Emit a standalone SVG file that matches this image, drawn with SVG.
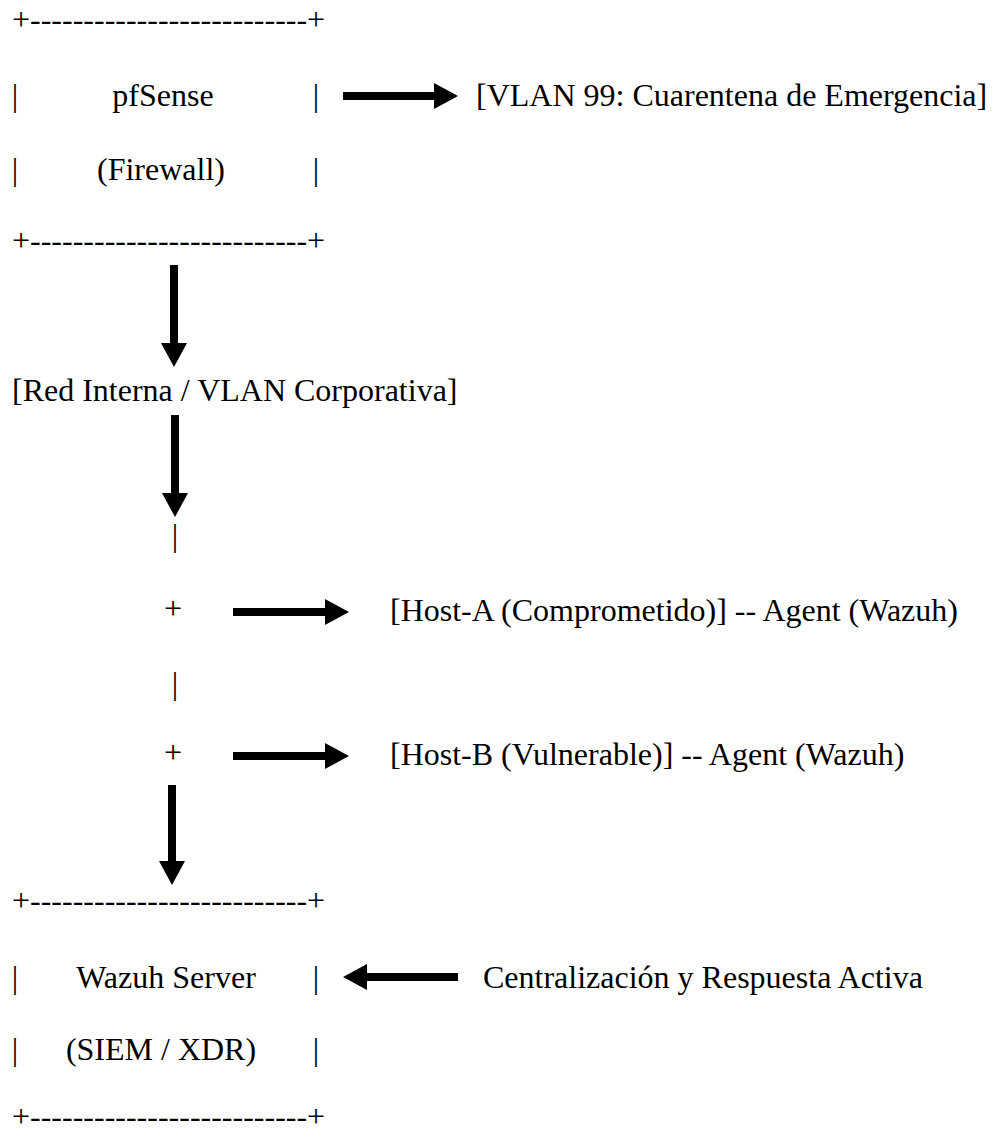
<svg xmlns="http://www.w3.org/2000/svg" width="996" height="1132" viewBox="0 0 996 1132">
<style>
text{font-family:"Liberation Serif","Times New Roman",serif;font-size:32px;fill:#000}
.m{text-anchor:middle}
.c{stroke:#000;stroke-width:8;fill:none;marker-end:url(#ah)}
</style>
<defs>
<marker id="ah" viewBox="0 0 24 26" refX="1" refY="13" markerWidth="24" markerHeight="26" markerUnits="userSpaceOnUse" orient="auto">
<path d="M0,0 L24,13 L0,26 z" fill="#000"/>
</marker>
</defs>
<rect width="996" height="1132" fill="#fff"/>
<g id="pfsense">
<text x="12" y="30">+--------------------------+</text>
<text class="m" x="15" y="106">|</text><text class="m" x="163" y="106">pfSense</text><text class="m" x="316" y="106">|</text>
<text class="m" x="15" y="180">|</text><text class="m" x="161" y="180">(Firewall)</text><text class="m" x="316" y="180">|</text>
<text x="12" y="251">+--------------------------+</text>
</g>
<g id="vlan99"><text x="476" y="106">[VLAN 99: Cuarentena de Emergencia]</text></g>
<g id="redinterna"><text x="12" y="401">[Red Interna / VLAN Corporativa]</text></g>
<g id="bus">
<text class="m" x="175" y="546">|</text>
<text class="m" x="173" y="619">+</text>
<text class="m" x="175" y="694">|</text>
<text class="m" x="173" y="763">+</text>
</g>
<g id="hosta"><text x="390" y="621">[Host-A (Comprometido)] -- Agent (Wazuh)</text></g>
<g id="hostb"><text x="390" y="765">[Host-B (Vulnerable)] -- Agent (Wazuh)</text></g>
<g id="wazuh">
<text x="12" y="911">+--------------------------+</text>
<text class="m" x="15" y="988">|</text><text class="m" x="166" y="988">Wazuh Server</text><text class="m" x="316" y="988">|</text>
<text class="m" x="15" y="1060">|</text><text class="m" x="161" y="1060">(SIEM / XDR)</text><text class="m" x="316" y="1060">|</text>
<text x="12" y="1127">+--------------------------+</text>
</g>
<g id="centralizacion"><text x="483" y="988">Centralización y Respuesta Activa</text></g>
<g id="connectors">
<line class="c" x1="343" y1="96" x2="435" y2="96"/>
<line class="c" x1="174" y1="265" x2="174" y2="344"/>
<line class="c" x1="175" y1="415" x2="175" y2="494"/>
<line class="c" x1="233" y1="612" x2="326" y2="612"/>
<line class="c" x1="233" y1="756" x2="326" y2="756"/>
<line class="c" x1="172" y1="785" x2="172" y2="862"/>
<line class="c" x1="458" y1="977" x2="366" y2="977"/>
</g>
</svg>
